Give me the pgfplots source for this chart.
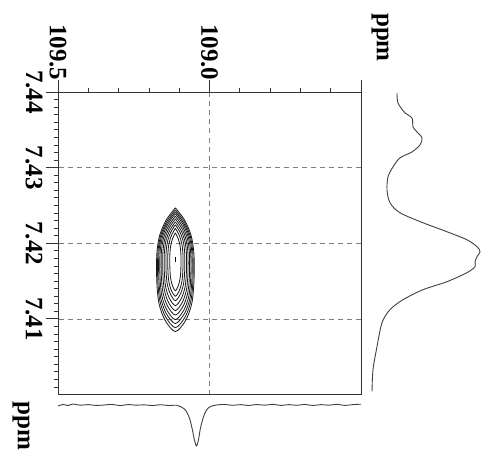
\documentclass[border=0pt]{standalone}
\usepackage{fontspec}
\setmainfont{Liberation Serif}
\usepackage{pgfplots}
\pgfplotsset{compat=1.18}
\begin{document}
\begin{tikzpicture}[x=1bp,y=1bp]
\path[use as bounding box] (0,0) rectangle (482,-461);
\pgfplotsset{
  cl/.style={black!90, line width=0.8bp, smooth, tension=0.5, mark=none},
  trace/.style={black!75, line width=0.9bp, smooth, tension=0.5, mark=none},
  lblfont/.style={font=\fontsize{25bp}{30bp}\selectfont\bfseries}
}
\begin{axis}[
  at={(58bp,-394.5bp)}, anchor=south west,
  width=303bp, height=302.5bp, scale only axis,
  xmin=108.5, xmax=109.5, x dir=reverse,
  ymin=7.40, ymax=7.44,
  axis line style={black!80, line width=0.9bp},
  xtick pos=right, ytick pos=left,
  xticklabel pos=right, yticklabel pos=left,
  tick align=outside,
  major tick length=12bp, minor tick length=4bp,
  tick style={black!80, line width=0.8bp},
  xtick={108.5,109.0,109.5}, xticklabels={{},109.0,109.5},
  minor xtick={108.6,108.7,108.8,108.9,109.1,109.2,109.3,109.4},
  ytick={7.41,7.42,7.43,7.44}, yticklabels={7.41,7.42,7.43,7.44},
  minor ytick={7.401,7.402,7.403,7.404,7.405,7.406,7.407,7.408,7.409,
               7.411,7.412,7.413,7.414,7.415,7.416,7.417,7.418,7.419,
               7.421,7.422,7.423,7.424,7.425,7.426,7.427,7.428,7.429,
               7.431,7.432,7.433,7.434,7.435,7.436,7.437,7.438,7.439},
  grid=major,
  major grid style={black!50, line width=0.6bp, dash pattern=on 5bp off 4bp},
  /pgf/number format/assume math mode=true,
  xticklabel shift=-4bp,
  xticklabel style={rotate=-90, anchor=east, lblfont},
  yticklabel style={rotate=-90, anchor=north, lblfont},
]
\addplot[cl] coordinates {(109.1126,7.42469) (109.0820,7.42305) (109.0605,7.42100) (109.0513,7.41855) (109.0513,7.41486) (109.0587,7.41200) (109.0789,7.40979) (109.1126,7.40832) (109.1463,7.40979) (109.1665,7.41200) (109.1739,7.41486) (109.1739,7.41855) (109.1647,7.42100) (109.1432,7.42305) (109.1126,7.42469)};
\addplot[cl] coordinates {(109.1126,7.42442) (109.0836,7.42286) (109.0633,7.42091) (109.0547,7.41858) (109.0547,7.41507) (109.0616,7.41235) (109.0807,7.41024) (109.1126,7.40884) (109.1445,7.41024) (109.1636,7.41235) (109.1706,7.41507) (109.1706,7.41858) (109.1619,7.42091) (109.1416,7.42286) (109.1126,7.42442)};
\addplot[cl] coordinates {(109.1126,7.42416) (109.0853,7.42268) (109.0662,7.42084) (109.0580,7.41862) (109.0580,7.41529) (109.0645,7.41270) (109.0826,7.41071) (109.1126,7.40938) (109.1427,7.41071) (109.1607,7.41270) (109.1672,7.41529) (109.1672,7.41862) (109.1590,7.42084) (109.1399,7.42268) (109.1126,7.42416)};
\addplot[cl] coordinates {(109.1126,7.42390) (109.0873,7.42250) (109.0695,7.42075) (109.0619,7.41865) (109.0619,7.41550) (109.0680,7.41305) (109.0847,7.41116) (109.1126,7.40990) (109.1405,7.41116) (109.1572,7.41305) (109.1633,7.41550) (109.1633,7.41865) (109.1557,7.42075) (109.1379,7.42250) (109.1126,7.42390)};
\addplot[cl] coordinates {(109.1126,7.42357) (109.0894,7.42226) (109.0732,7.42062) (109.0662,7.41866) (109.0662,7.41572) (109.0718,7.41344) (109.0871,7.41167) (109.1126,7.41050) (109.1381,7.41167) (109.1534,7.41344) (109.1590,7.41572) (109.1590,7.41866) (109.1520,7.42062) (109.1358,7.42226) (109.1126,7.42357)};
\addplot[cl] coordinates {(109.1126,7.42323) (109.0919,7.42202) (109.0774,7.42050) (109.0712,7.41868) (109.0712,7.41595) (109.0762,7.41382) (109.0898,7.41218) (109.1126,7.41109) (109.1354,7.41218) (109.1490,7.41382) (109.1540,7.41595) (109.1540,7.41868) (109.1478,7.42050) (109.1333,7.42202) (109.1126,7.42323)};
\addplot[cl] coordinates {(109.1126,7.42284) (109.0944,7.42173) (109.0816,7.42034) (109.0762,7.41868) (109.0762,7.41618) (109.0806,7.41424) (109.0926,7.41274) (109.1126,7.41175) (109.1326,7.41274) (109.1447,7.41424) (109.1490,7.41618) (109.1490,7.41868) (109.1436,7.42034) (109.1308,7.42173) (109.1126,7.42284)};
\addplot[cl] coordinates {(109.1126,7.42245) (109.0972,7.42144) (109.0864,7.42019) (109.0818,7.41868) (109.0818,7.41643) (109.0855,7.41467) (109.0957,7.41332) (109.1126,7.41241) (109.1295,7.41332) (109.1397,7.41467) (109.1434,7.41643) (109.1434,7.41868) (109.1388,7.42019) (109.1280,7.42144) (109.1126,7.42245)};
\addplot[cl] coordinates {(109.1126,7.42198) (109.1002,7.42108) (109.0915,7.41996) (109.0878,7.41861) (109.0878,7.41659) (109.0908,7.41502) (109.0989,7.41381) (109.1126,7.41300) (109.1263,7.41381) (109.1345,7.41502) (109.1374,7.41659) (109.1374,7.41861) (109.1337,7.41996) (109.1250,7.42108) (109.1126,7.42198)};
\addplot[cl] coordinates {(109.1126,7.42139) (109.1035,7.42062) (109.0971,7.41967) (109.0944,7.41852) (109.0944,7.41679) (109.0966,7.41546) (109.1026,7.41442) (109.1126,7.41373) (109.1226,7.41442) (109.1286,7.41546) (109.1308,7.41679) (109.1308,7.41852) (109.1281,7.41967) (109.1217,7.42062) (109.1126,7.42139)};
\addplot[black, line width=1.6bp] coordinates {(109.1126,7.41822) (109.1126,7.41756)};
\end{axis}
% right (1H) projection
\begin{axis}[
  at={(370bp,-394.5bp)}, anchor=south west,
  width=112bp, height=302.5bp, scale only axis,
  xmin=0, xmax=112, ymin=7.40, ymax=7.44,
  axis lines=none, clip=false]
\addplot[trace] coordinates {
(27,7.43987) (28,7.43855) (35,7.43723) (42,7.43657) (43,7.43538) (47,7.43472)
(52,7.43393) (50,7.43300) (42,7.43208) (30,7.43129) (23,7.43010) (18,7.42878)
(17,7.42706) (20,7.42535) (30,7.42403) (53,7.42271) (77,7.42152) (97,7.42046)
(107,7.41954) (110,7.41888) (107,7.41822) (105,7.41756) (105,7.41690) (97,7.41611)
(77,7.41492) (53,7.41386) (33,7.41254) (20,7.41122) (12,7.40950) (7,7.40634)
(3,7.40330) (2,7.40040)};
\end{axis}
% bottom (13C) projection
\begin{axis}[
  at={(58bp,-450bp)}, anchor=south west,
  width=303bp, height=50bp, scale only axis,
  xmin=108.5, xmax=109.5, x dir=reverse,
  ymin=-50, ymax=0,
  axis lines=none, clip=false]
\addplot[trace] coordinates {
(109.5000,-6) (109.4834,-4.5) (109.4669,-5.5) (109.4503,-4) (109.4272,-5.2)
(109.4007,-4.6) (109.3742,-5.4) (109.3477,-5) (109.3212,-4.4) (109.2947,-5.6)
(109.2682,-4.5) (109.2417,-5.2) (109.2152,-4.8) (109.1887,-5.6) (109.1623,-4.7)
(109.1358,-5.5) (109.1093,-5.2) (109.0960,-6.5) (109.0795,-10) (109.0662,-18)
(109.0563,-30) (109.0497,-40) (109.0430,-46) (109.0364,-40) (109.0298,-28)
(109.0199,-17) (109.0099,-10) (108.9967,-6.5) (108.9768,-5) (108.9503,-4.4)
(108.9238,-5.3) (108.8974,-4.6) (108.8709,-5.5) (108.8444,-4.5) (108.8179,-5.2)
(108.7914,-4.3) (108.7649,-5.4) (108.7384,-4.6) (108.7119,-5.3) (108.6854,-4.4)
(108.6589,-5.5) (108.6325,-4.6) (108.6060,-5.2) (108.5795,-4.3) (108.5530,-5.4)
(108.5265,-4.6) (108.5000,-4.2)};
\end{axis}
\node[rotate=-90, font=\fontsize{25bp}{30bp}\selectfont\bfseries] at (380,-37.5) {ppm};
\node[rotate=-90, font=\fontsize{25bp}{30bp}\selectfont\bfseries] at (21,-426) {ppm};
\end{tikzpicture}
\end{document}
